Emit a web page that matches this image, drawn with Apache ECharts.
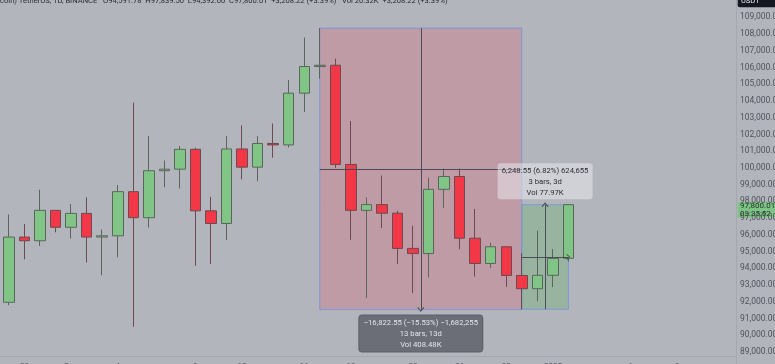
<!DOCTYPE html>
<html><head><meta charset="utf-8">
<script src="https://cdn.jsdelivr.net/npm/echarts@6/dist/echarts.min.js"></script>
<style>html,body{margin:0;padding:0;background:#b3b5bd;}#c{width:775px;height:364px;}</style>
</head><body><div id="c"></div>
<script>
// ---- data ----
const categories = [
 '2024-11-27','2024-11-28','2024-11-29','2024-11-30','2024-12-01','2024-12-02','2024-12-03','2024-12-04',
 '2024-12-05','2024-12-06','2024-12-07','2024-12-08','2024-12-09','2024-12-10','2024-12-11','2024-12-12',
 '2024-12-13','2024-12-14','2024-12-15','2024-12-16','2024-12-17','2024-12-18','2024-12-19','2024-12-20',
 '2024-12-21','2024-12-22','2024-12-23','2024-12-24','2024-12-25','2024-12-26','2024-12-27','2024-12-28',
 '2024-12-29','2024-12-30','2024-12-31','2025-01-01','2025-01-02','2025-01-03','2025-01-04','2025-01-05',
 '2025-01-06','2025-01-07','2025-01-08','2025-01-09','2025-01-10','2025-01-11','2025-01-12'
];
const opens  = [91965,95863,95643,97461,96449,97279,95865,95939,98578,97020,99830,99924,101110,97432,96675,101130,100043,101459,101372,104464,106058,106133,100204,97461,97805,97291,95186,94877,98718,99485,95795,94284,95284,93568,92776,93577,94591.78];
const highs  = [97208,96650,98693,97463,97836,98239,96320,98976,103900,101898,100439,101310,101200,98270,101895,102540,101895,102650,105250,107793,108353,106524,102800,98233,99540,97448,96538,99416,99960,99963,97544,95525,95300,94903,96250,95151,97839.50];
const lows   = [91792,94535,95334,96150,95770,94350,93578,94660,90500,96433,98844,98772,94150,94256,95692,99311,99205,100609,101222,103333,105321,100000,95700,92232,96398,94250,92520,93448,97600,95137,93500,94014,92883,91530,92034,92870,94392.00];
const closes = [95863,95643,97461,96449,97279,95865,95939,98578,97020,99830,99924,101110,97432,96675,101130,100043,101459,101372,104464,106058,106133,100204,97461,97805,97291,95186,94877,98718,99485,95795,94284,95284,93568,92776,93577,94592,97800.01];

const tickDates  = ['2024-11-28','2024-12-01','2024-12-04','2024-12-09','2024-12-12','2024-12-16','2024-12-19','2024-12-23','2024-12-26','2024-12-29','2025-01-01','2025-01-06','2025-01-09'];
const tickLabels = ['28','Dec','4','9','12','16','19','23','26','30','2025','6','9'];

// measurement ranges: [startIndex, endIndex, fromPrice, toPrice]
const dropRange = [20, 33, 108353, 91530.45];
const riseRange = [33, 36, 91551.46, 97800.01];
const dropText = ['\u221216,822.55 (\u221215.53%) \u22121,682,255', '13 bars, 13d', 'Vol 408.48K'];
const riseText = ['6,248.55 (6.82%) 624,655', '3 bars, 3d', 'Vol 77.97K'];

const lastPrice = 97800.01;
const lastPriceText = ['97,800.01', '03:35:52'];
const headerText = 'coin) TetherUS, 1D, BINANCE   O94,591.78  H97,839.50  L94,392.00  C97,800.01  +3,208.22 (+3.39%)   Vol 20.32K  +3,208.22 (+3.39%)';

// ---- chart ----
const FONT = 'Roboto';
const candleData = opens.map((o, i) => [o, closes[i], lows[i], highs[i]]);
const tickMap = {};
tickDates.forEach((d, i) => tickMap[d] = tickLabels[i]);

const chart = echarts.init(document.getElementById('c'), null, {renderer: 'canvas'});
const chevron = 'path://M0,6L5,0L10,6L8.8,6.8L5,2.2L1.2,6.8Z';
const lineCol = '#4a4d57';
const midDrop = (dropRange[2] + dropRange[3]) / 2;
const midRise = (riseRange[2] + riseRange[3]) / 2;
const cDrop = (dropRange[0] + dropRange[1]) / 2;
const cRise = (riseRange[0] + riseRange[1]) / 2;

chart.setOption({
  animation: false,
  backgroundColor: '#b3b5bd',
  grid: {left: 1.23, right: 43.4, top: 0.57, bottom: 12.1, containLabel: false, outerBoundsMode: 'none'},
  xAxis: [{
    type: 'category', data: categories, boundaryGap: true,
    axisLine: {show: false}, axisTick: {show: false}, splitLine: {show: false},
    axisLabel: {interval: 0, margin: 9.6, fontSize: 8, fontFamily: FONT, color: '#50535c',
      formatter: v => tickMap[v] || ''}
  }, {
    type: 'value', min: -0.5, max: categories.length - 0.5, show: false
  }],
  yAxis: {
    type: 'value', position: 'right', min: 89000, max: 110000, interval: 1000,
    axisLine: {show: false}, axisTick: {show: false}, splitLine: {show: false},
    axisLabel: {margin: 8.4, fontSize: 8.5, fontFamily: FONT, color: '#50535c', showMaxLabel: false,
      formatter: v => v.toLocaleString('en-US', {minimumFractionDigits: 2, maximumFractionDigits: 2})}
  },
  series: [{
    type: 'candlestick', data: candleData, barWidth: 11, z: 3,
    itemStyle: {color: '#80c585', color0: '#f23746', borderColor: '#5a665c', borderColor0: '#6c4a50', borderWidth: 1},
    markLine: {
      silent: true, symbol: 'none', z: 1,
      lineStyle: {color: 'rgba(150,200,160,0.18)', type: [2, 2], width: 1},
      label: {show: false},
      data: [{yAxis: lastPrice}]
    }
  }, {
    type: 'line', xAxisIndex: 1, data: [], z: 1,
    markArea: {
      silent: true,
      itemStyle: {borderColor: '#7e98d4', borderWidth: 1},
      data: [
        [{coord: [dropRange[0], dropRange[2]], itemStyle: {color: 'rgba(242,54,69,0.2)'}}, {coord: [dropRange[1], dropRange[3]]}],
        [{coord: [riseRange[0], riseRange[3]], itemStyle: {color: 'rgba(76,175,80,0.25)'}}, {coord: [riseRange[1], riseRange[2]]}]
      ]
    },
    markLine: {
      silent: true, z: 4, symbolSize: [7, 5],
      lineStyle: {color: lineCol, type: 'solid', width: 1},
      label: {show: false},
      data: [
        [{coord: [cDrop, dropRange[2]], symbol: 'none'}, {coord: [cDrop, dropRange[3]], symbol: chevron}],
        [{coord: [dropRange[0], midDrop], symbol: 'none'}, {coord: [dropRange[1], midDrop], symbol: 'none'}],
        [{coord: [cRise, riseRange[2]], symbol: 'none'}, {coord: [cRise, riseRange[3]], symbol: chevron}],
        [{coord: [riseRange[0], midRise], symbol: 'none'}, {coord: [riseRange[1], midRise], symbol: chevron, symbolSize: [6, 4]}]
      ]
    },
    markPoint: {
      silent: true, z: 6, symbol: 'rect', symbolSize: 0.1,
      itemStyle: {color: 'rgba(0,0,0,0)'},
      data: [
        {coord: [cDrop, dropRange[3]], label: {show: true, position: 'bottom', distance: 6,
          formatter: dropText.join('\n'), backgroundColor: '#6b6d77', borderColor: '#5e6069', borderWidth: 1,
          borderRadius: 3, padding: [2, 6, 1, 6], width: 111, align: 'center',
          color: '#e4e5ea', fontSize: 7.7, lineHeight: 11, fontFamily: FONT}},
        {coord: [cRise, riseRange[3]], label: {show: true, position: 'top', distance: 5.5,
          formatter: riseText.join('\n'), backgroundColor: 'rgba(236,237,241,0.5)',
          borderRadius: 3, padding: [2, 5, 1, 5], width: 85, align: 'center',
          color: '#2c2e36', fontSize: 7.7, lineHeight: 11, fontFamily: FONT}}
      ]
    }
  }]
});

const py = chart.convertToPixel({yAxisIndex: 0}, lastPrice);
chart.setOption({
  graphic: [
    {type: 'line', shape: {x1: 0, y1: 356.5, x2: 736, y2: 356.5}, style: {stroke: '#a6a8b0', lineWidth: 1}, silent: true},
    {type: 'line', shape: {x1: 736.5, y1: 0, x2: 736.5, y2: 364}, style: {stroke: '#a6a8b0', lineWidth: 1}, silent: true},
    {type: 'text', x: 0, y: -3, silent: true, style: {text: headerText, fontSize: 7.6, fontFamily: FONT, fill: '#2a2c34'}},
    {type: 'rect', x: 737.7, y: -4, shape: {width: 40, height: 11.3, r: 2}, style: {fill: '#151820'}, silent: true},
    {type: 'text', x: 741, y: -3.2, silent: true, style: {text: 'USDT', fontSize: 7.5, fontFamily: FONT, fill: '#e6e7eb'}},
    {type: 'rect', x: 737.7, y: py - 3, shape: {width: 40, height: 16, r: 1}, style: {fill: '#7fc487'}, silent: true},
    {type: 'text', x: 740, y: py - 2.8, silent: true, style: {text: lastPriceText.join('\n'), fontSize: 8, lineHeight: 7.8, fontFamily: FONT, fill: '#1d2e21'}}
  ]
});
</script></body></html>
